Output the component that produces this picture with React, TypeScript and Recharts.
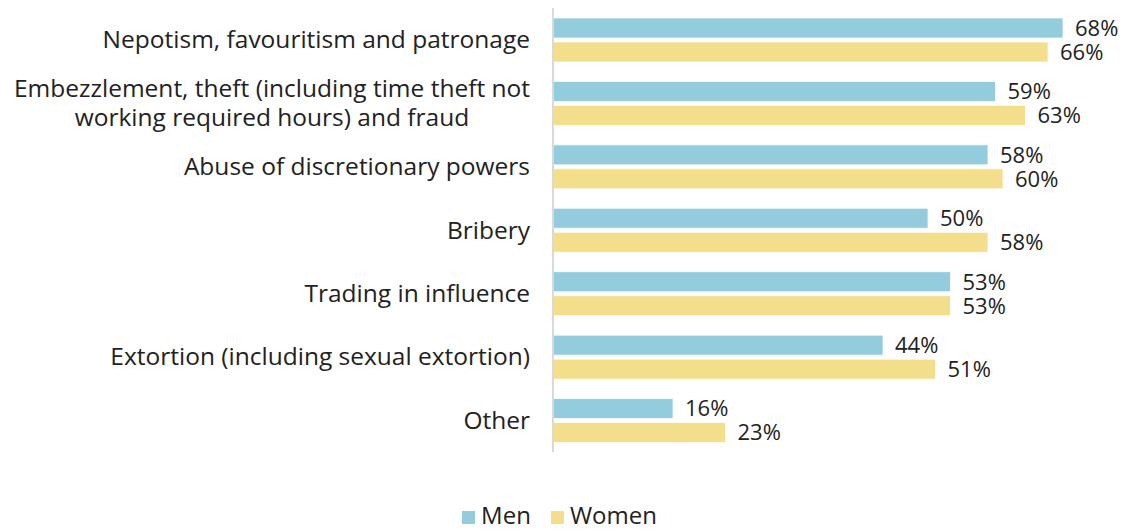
import React from "react";
import { BarChart, Bar, XAxis, YAxis, Legend, LabelList } from "recharts";

const categories = [
  "Nepotism, favouritism and patronage",
  "Embezzlement, theft (including time theft not working required hours) and fraud",
  "Abuse of discretionary powers",
  "Bribery",
  "Trading in influence",
  "Extortion (including sexual extortion)",
  "Other",
];
const categoryLines: string[][] = [
  ["Nepotism, favouritism and patronage"],
  ["Embezzlement, theft (including time theft not", "working required hours) and fraud"],
  ["Abuse of discretionary powers"],
  ["Bribery"],
  ["Trading in influence"],
  ["Extortion (including sexual extortion)"],
  ["Other"],
];
const men = [68, 59, 58, 50, 53, 44, 16];
const women = [66, 63, 60, 58, 53, 51, 23];
const seriesNames = ["Men", "Women"];

const data = categories.map((c, i) => ({ category: c, men: men[i], women: women[i] }));

const FONT = "'Open Sans', 'DejaVu Sans', sans-serif";
const FS = 24.5;
const LFS = 22;
const MEN_COLOR = "#93CDDD";
const WOMEN_COLOR = "#F2DE8B";
const TEXT = "#222222";

let ctx: CanvasRenderingContext2D | null = null;
const measure = (t: string) => {
  if (!ctx) ctx = document.createElement("canvas").getContext("2d");
  if (!ctx) return t.length * FS * 0.55;
  ctx.font = `${FS}px ${FONT}`;
  return ctx.measureText(t).width;
};

const CategoryTick = (props: any) => {
  const { x, y, payload } = props;
  const idx = categories.indexOf(payload.value);
  const lines = idx >= 0 ? categoryLines[idx] : [String(payload.value)];
  const right = x - 15;
  if (lines.length === 1) {
    return (
      <text x={right} y={y} dy="0.35em" textAnchor="end" fontFamily={FONT} fontSize={FS} fill={TEXT}>
        {lines[0]}
      </text>
    );
  }
  const blockW = Math.max(...lines.map(measure));
  const cx = right - blockW / 2;
  const lh = 29;
  const startY = y - ((lines.length - 1) * lh) / 2;
  return (
    <text textAnchor="middle" fontFamily={FONT} fontSize={FS} fill={TEXT}>
      {lines.map((l, i) => (
        <tspan key={i} x={cx} y={startY + i * lh} dy="0.35em">
          {l}
        </tspan>
      ))}
    </text>
  );
};

const LegendContent = () => (
  <div
    style={{
      display: "flex",
      justifyContent: "center",
      alignItems: "center",
      fontFamily: FONT,
      fontSize: 24,
      lineHeight: "28px",
      height: 28,
      color: TEXT,
      paddingRight: 21,
    }}
  >
    {[MEN_COLOR, WOMEN_COLOR].map((c, i) => (
      <div key={i} style={{ display: "flex", alignItems: "center", marginRight: i === 0 ? 20 : 0 }}>
        <span style={{ display: "inline-block", width: 13, height: 13, background: c, marginRight: 6, marginTop: 4 }} />
        <span>{seriesNames[i]}</span>
      </div>
    ))}
  </div>
);

export default function App() {
  return (
    <BarChart
      width={1124}
      height={523}
      data={data}
      layout="vertical"
      margin={{ top: 0, right: 54, bottom: 49, left: 0 }}
      barGap={4}
      barSize={20}
    >
      <XAxis type="number" domain={[0, 70]} hide />
      <YAxis
        type="category"
        dataKey="category"
        width={545}
        axisLine={{ stroke: "#D9D9D9", strokeWidth: 2 }}
        tickLine={false}
        tick={<CategoryTick />}
        interval={0}
      />
      <Legend
        verticalAlign="bottom"
        height={30}
        wrapperStyle={{ top: 493, bottom: "auto", left: 0, width: 1124 }}
        content={<LegendContent />}
      />
      <Bar dataKey="men" name="Men" fill={MEN_COLOR} stroke="#ffffff" strokeWidth={0.75} isAnimationActive={false}>
        <LabelList
          dataKey="men"
          position="right"
          offset={12}
          formatter={(v: any) => `${v}%`}
          style={{ fontFamily: FONT, fontSize: LFS, fill: TEXT }}
        />
      </Bar>
      <Bar dataKey="women" name="Women" fill={WOMEN_COLOR} stroke="#ffffff" strokeWidth={0.75} isAnimationActive={false}>
        <LabelList
          dataKey="women"
          position="right"
          offset={12}
          formatter={(v: any) => `${v}%`}
          style={{ fontFamily: FONT, fontSize: LFS, fill: TEXT }}
        />
      </Bar>
    </BarChart>
  );
}
